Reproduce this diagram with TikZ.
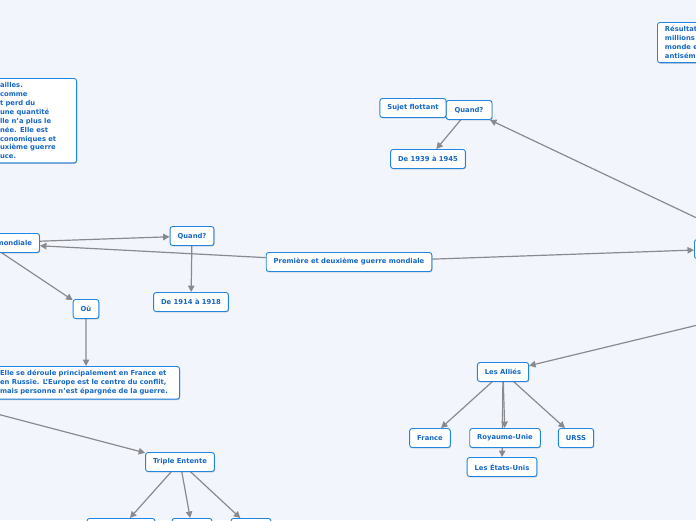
\documentclass[tikz,border=0pt]{standalone}
\usepackage{fontspec}
\setsansfont{DejaVu Sans}
\usepackage{tikz}
\usetikzlibrary{arrows.meta,positioning,backgrounds,shadows}
\definecolor{Mbg}{RGB}{243,245,253}
\definecolor{Mblue}{RGB}{33,133,226}
\definecolor{Mtext}{RGB}{22,104,196}
\definecolor{Mgrey}{RGB}{138,138,142}
\tikzset{
  link/.style={-{Triangle[length=6.5pt,width=6.5pt]}, line width=1.2pt, draw=Mgrey},
  topicbox/.style={rounded corners=2.5pt, draw=Mblue, fill=white, line width=0.9pt,
    font=\sffamily\bfseries\fontsize{6.8}{8.9}\selectfont, text=Mtext,
    inner xsep=7.5pt, inner ysep=4pt, minimum height=19pt, align=center,
    drop shadow={shadow xshift=0.6pt, shadow yshift=-0.9pt, opacity=0.25, fill=black}}
}

\begin{document}
\begin{tikzpicture}[x=1pt,y=-1pt]
  \useasboundingbox (0,0) rectangle (696,520);
  \clip (0,0) rectangle (696,520);

  % premiere guerre
  \node[topicbox, anchor=north east, text width=69pt, align=left] (bilan) at (77,78)
    {ailles.\\ comme\\t perd du\\ une quantité\\lle n'a plus le\\née. Elle est\\conomiques et\\uxième guerre\\uce.};
  \node[topicbox, text width=90pt, align=right] (ww1) at (-13,243) {mondiale};
  \node[topicbox] (quand1) at (192,236) {Quand?};
  \node[topicbox] (date1) at (191,302) {De 1914 à 1918};
  \node[topicbox] (ou) at (86,309) {Où};
  \node[topicbox, anchor=north east, text width=172pt, align=left] (lieu) at (180,366)
    {Elle se déroule principalement en France et\\en Russie. L'Europe est le centre du conflit,\\mais personne n'est épargnée de la guerre.};
  \node[topicbox] (entente) at (180,462) {Triple Entente};
  \node[topicbox, anchor=north, minimum width=68pt] (pays1) at (121,518) {};
  \node[topicbox, anchor=north, minimum width=40pt] (pays2) at (192,518) {};
  \node[topicbox, anchor=north, minimum width=40pt] (pays3) at (251,518) {};

  % centre
  \node[topicbox] (guerres) at (349,262) {Première et deuxième guerre mondiale};
  \node[topicbox, anchor=west, minimum width=60pt] (racine) at (694,249) {};
  \node[topicbox, anchor=north west, align=left] (resultat) at (657,22)
    {Résultats\\millions de\\monde entier\\antisémitisme};

  % deuxieme guerre
  \node[topicbox, minimum width=46pt] (quand2) at (469,110) {Quand?};
  \node[topicbox] (sujet) at (413,108) {Sujet flottant};
  \node[topicbox] (date2) at (428,159) {De 1939 à 1945};
  \node[topicbox] (allies) at (503,372) {Les Alliés};
  \node[topicbox] (france) at (430,438) {France};
  \node[topicbox] (royaume) at (505,438) {Royaume-Unie};
  \node[topicbox] (urss) at (576,438) {URSS};
  \node[topicbox] (usa) at (502,467) {Les États-Unis};

  \coordinate (horsA) at (-60,399);
  \coordinate (horsB) at (760,248);
  \coordinate (horsC) at (760,310);

  \begin{scope}[on background layer]
    \clip (0,0) rectangle (696,520);
    \fill[Mbg] (0,0) rectangle (696,520);
    \draw[link] (guerres) -- (ww1);
    \draw[link] (ww1) -- (quand1);
    \draw[link] (ww1) -- (ou);
    \draw[link] (quand1) -- (date1);
    \draw[link] (ou) -- (lieu);
    \draw[link] (horsA) -- (entente);
    \draw[link] (entente) -- (pays1);
    \draw[link] (entente) -- (pays2);
    \draw[link] (entente) -- (pays3);
    \draw[link] (guerres) -- (racine);
    \draw[link] (horsB) -- (quand2);
    \draw[link] (quand2) -- (date2);
    \draw[link] (horsC) -- (allies);
    \draw[link] (allies) -- (france);
    \draw[link] (allies) -- (usa);
    \draw[link] (allies) -- (royaume);
    \draw[link] (allies) -- (urss);
  \end{scope}
\end{tikzpicture}
\end{document}
